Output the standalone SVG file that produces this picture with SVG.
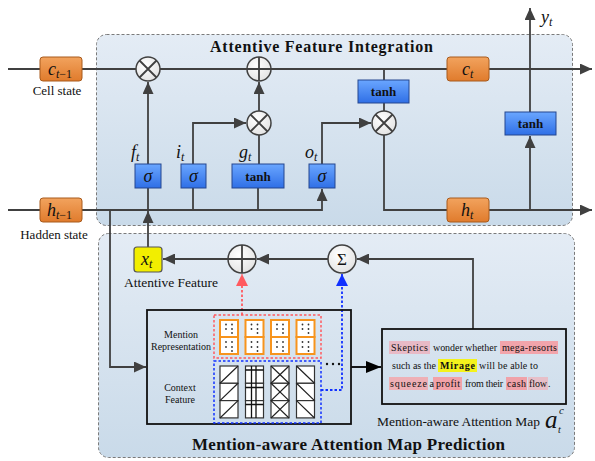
<svg xmlns="http://www.w3.org/2000/svg" width="595" height="461" viewBox="0 0 595 461">
<defs>
<linearGradient id="panel" x1="0" y1="0" x2="0" y2="1"><stop offset="0" stop-color="#e4ecf5"/><stop offset="1" stop-color="#c9dae9"/></linearGradient>
<linearGradient id="orange" x1="0" y1="0" x2="0" y2="1"><stop offset="0" stop-color="#f2a35e"/><stop offset="1" stop-color="#e07b2c"/></linearGradient>
<linearGradient id="blue" x1="0" y1="0" x2="0" y2="1"><stop offset="0" stop-color="#6aa6ff"/><stop offset="1" stop-color="#2f6fe6"/></linearGradient>
<radialGradient id="circ" cx="0.4" cy="0.35" r="0.7"><stop offset="0" stop-color="#ffffff"/><stop offset="1" stop-color="#e2e2e2"/></radialGradient>
<marker id="ah" markerUnits="userSpaceOnUse" markerWidth="13" markerHeight="11" refX="12" refY="5.5" orient="auto"><path d="M0,0 L12,5.5 L0,11 z" fill="#404040"/></marker>
<marker id="ahk" markerUnits="userSpaceOnUse" markerWidth="16" markerHeight="12" refX="15" refY="6" orient="auto"><path d="M0,0 L15,6 L0,12 z" fill="#000"/></marker>
<marker id="ahr" markerUnits="userSpaceOnUse" markerWidth="13" markerHeight="12" refX="12" refY="6" orient="auto"><path d="M0,0 L12,6 L0,12 z" fill="#ff5a5f"/></marker>
<marker id="ahb" markerUnits="userSpaceOnUse" markerWidth="13" markerHeight="12" refX="12" refY="6" orient="auto"><path d="M0,0 L12,6 L0,12 z" fill="#1030ff"/></marker>
<g id="tileO"><rect x="0" y="0" width="18" height="17" fill="#fff" stroke="#f7941d" stroke-width="2"/><rect x="0" y="17" width="18" height="17" fill="#fff" stroke="#f7941d" stroke-width="2"/>
<g fill="#333"><circle cx="6" cy="4.5" r="0.9"/><circle cx="12" cy="4.5" r="0.9"/><circle cx="6" cy="9" r="0.9"/><circle cx="12" cy="9" r="0.9"/><circle cx="12" cy="13" r="0.9"/><circle cx="6" cy="22" r="0.9"/><circle cx="12" cy="22" r="0.9"/><circle cx="6" cy="27" r="0.9"/><circle cx="12" cy="27" r="0.9"/><circle cx="12" cy="31" r="0.9"/></g></g>
</defs>
<style>
.ln{fill:none;stroke:#404040;stroke-width:1.8}
.box{stroke:#a85a1c;stroke-width:1;fill:url(#orange)}
.bb{stroke:#24468f;stroke-width:1;fill:url(#blue)}
.cir{fill:url(#circ);stroke:#404040;stroke-width:1.5}
.panel{fill:url(#panel);stroke:#7a7a7a;stroke-width:1;stroke-dasharray:3,2}
.t{font-family:"Liberation Serif","Times New Roman",serif;fill:#111}
.it{font-family:"Liberation Serif","Times New Roman",serif;font-style:italic;fill:#111}
.bold{font-family:"Liberation Serif","Times New Roman",serif;font-weight:bold;fill:#111}
.tile{fill:#fff;stroke:#333;stroke-width:1.2}
.pat{stroke:#222;stroke-width:1.2;fill:none}
</style>

<g id="panel-top"><rect class="panel" x="96.5" y="34.5" width="476" height="191" rx="10"/>
<text class="bold" x="210" y="52" font-size="16" textLength="223" lengthAdjust="spacing">Attentive Feature Integration</text></g>
<g id="panel-bottom"><rect class="panel" x="98.5" y="233.5" width="476" height="224" rx="10"/>
<text class="bold" x="192" y="450" font-size="17" textLength="313" lengthAdjust="spacing">Mention-aware Attention Map Prediction</text></g>

<g id="connectors">
<path class="ln" d="M8,69 H40 M82,69 H136 M160,69 H247 M271,69 H447"/>
<path class="ln" d="M489,69 H592" marker-end="url(#ah)"/>
<path class="ln" d="M8,210 H40 M82,210 H322 V189" marker-end="url(#ah)"/>
<path class="ln" d="M148,164 V82" marker-end="url(#ah)"/>
<path class="ln" d="M148,188 V210 M193,188 V210 M258,188 V210"/>
<path class="ln" d="M148,247 V211" marker-end="url(#ah)"/>
<path class="ln" d="M193,164 V123 H246" marker-end="url(#ah)"/>
<path class="ln" d="M259,164 V135"/>
<path class="ln" d="M259,111 V82" marker-end="url(#ah)"/>
<path class="ln" d="M322,164 V123 H371" marker-end="url(#ah)"/>
<path class="ln" d="M384,69 V80 M384,103 V111"/>
<path class="ln" d="M384,135 V210 H447"/>
<path class="ln" d="M489,210 H592" marker-end="url(#ah)"/>
<path class="ln" d="M530,210 V136" marker-end="url(#ah)"/>
<path class="ln" d="M530,112 V8" marker-end="url(#ah)"/>
<path class="ln" d="M110,210 V367 H146" marker-end="url(#ah)"/>
<path class="ln" d="M228,259 H163" marker-end="url(#ah)"/>
<path class="ln" d="M328,259 H257" marker-end="url(#ah)"/>
<path class="ln" d="M473,329 V259 H357" marker-end="url(#ah)"/>
<path d="M351,367 H381" stroke="#000" stroke-width="1.8" fill="none" marker-end="url(#ahk)"/>
<path d="M242,315 V274" stroke="#ff5a5f" stroke-width="1.8" stroke-dasharray="2.5,2" fill="none" marker-end="url(#ahr)"/>
<path d="M321,390 H342 V274" stroke="#1030ff" stroke-width="1.8" stroke-dasharray="2.5,2" fill="none" marker-end="url(#ahb)"/>
</g>

<g id="c-prev"><rect class="box" x="40" y="57" width="42" height="24" rx="3"/>
<text class="it" x="48" y="75" font-size="18">c<tspan font-size="12" dy="3">t</tspan><tspan font-style="normal" font-size="12">−1</tspan></text>
<text class="t" x="57" y="95" font-size="13" text-anchor="middle">Cell state</text></g>
<g id="h-prev"><rect class="box" x="40" y="198" width="42" height="24" rx="3"/>
<text class="it" x="47" y="216" font-size="18">h<tspan font-size="12" dy="3">t</tspan><tspan font-style="normal" font-size="12">−1</tspan></text>
<text class="t" x="54" y="239" font-size="13" text-anchor="middle">Hadden state</text></g>
<g id="c-t"><rect class="box" x="447" y="57" width="42" height="24" rx="3"/>
<text class="it" x="462" y="75" font-size="18">c<tspan font-size="12" dy="3">t</tspan></text></g>
<g id="h-t"><rect class="box" x="447" y="198" width="42" height="24" rx="3"/>
<text class="it" x="461" y="216" font-size="18">h<tspan font-size="12" dy="3">t</tspan></text></g>

<g id="mul-f"><circle class="cir" cx="148" cy="69" r="12"/><path class="ln" d="M139.5,60.5 L156.5,77.5 M156.5,60.5 L139.5,77.5" stroke-width="1.4"/></g>
<g id="add-c"><circle class="cir" cx="259" cy="69" r="12"/><path class="ln" d="M247,69 H271 M259,57 V81" stroke-width="1.4"/></g>
<g id="mul-i"><circle class="cir" cx="259" cy="123" r="12"/><path class="ln" d="M250.5,114.5 L267.5,131.5 M267.5,114.5 L250.5,131.5" stroke-width="1.4"/></g>
<g id="mul-o"><circle class="cir" cx="384" cy="123" r="12"/><path class="ln" d="M375.5,114.5 L392.5,131.5 M392.5,114.5 L375.5,131.5" stroke-width="1.4"/></g>

<g id="gate-f"><rect class="bb" x="135" y="164" width="26" height="24"/><text class="it" x="148" y="182" font-size="18" text-anchor="middle">σ</text>
<text class="it" x="131" y="158" font-size="18">f<tspan font-size="12" dy="3">t</tspan></text></g>
<g id="gate-i"><rect class="bb" x="181" y="164" width="25" height="24"/><text class="it" x="193.5" y="182" font-size="18" text-anchor="middle">σ</text>
<text class="it" x="176" y="158" font-size="18">i<tspan font-size="12" dy="3">t</tspan></text></g>
<g id="gate-g"><rect class="bb" x="232" y="164" width="52" height="24"/><text class="bold" x="258" y="181" font-size="13" text-anchor="middle">tanh</text>
<text class="it" x="239" y="158" font-size="18">g<tspan font-size="12" dy="3">t</tspan></text></g>
<g id="gate-o"><rect class="bb" x="309" y="164" width="26" height="24"/><text class="it" x="322" y="182" font-size="18" text-anchor="middle">σ</text>
<text class="it" x="305" y="158" font-size="18">o<tspan font-size="12" dy="3">t</tspan></text></g>
<g id="tanh-c"><rect class="bb" x="358" y="80" width="51" height="23"/><text class="bold" x="383.5" y="96" font-size="13" text-anchor="middle">tanh</text></g>
<g id="tanh-y"><rect class="bb" x="505" y="112" width="51" height="23"/><text class="bold" x="530.5" y="128" font-size="13" text-anchor="middle">tanh</text></g>
<g id="y-t"><text class="it" x="541" y="23" font-size="18">y<tspan font-size="12" dy="3">t</tspan></text></g>

<g id="x-t"><rect x="134" y="247" width="28" height="25" rx="3" fill="#f2ee00" stroke="#555" stroke-width="1.2"/>
<text class="it" x="141" y="265" font-size="18">x<tspan font-size="12" dy="3">t</tspan></text>
<text class="t" x="171" y="287" font-size="13.5" text-anchor="middle">Attentive Feature</text></g>
<g id="add-x"><circle class="cir" cx="242" cy="259" r="14"/><path class="ln" d="M228,259 H256 M242,245 V273" stroke-width="1.4"/></g>
<g id="sum"><circle class="cir" cx="342" cy="259" r="14"/><text class="t" x="342" y="265" font-size="17" text-anchor="middle">Σ</text></g>

<g id="feature-box"><rect x="147" y="310" width="204" height="114" fill="none" stroke="#111" stroke-width="1.8"/>
<text class="t" x="181" y="338" font-size="10" text-anchor="middle">Mention</text>
<text class="t" x="181" y="350" font-size="10" text-anchor="middle">Representation</text>
<text class="t" x="180" y="391" font-size="10" text-anchor="middle">Context</text>
<text class="t" x="180" y="403" font-size="10" text-anchor="middle">Feature</text>
<rect x="214" y="315" width="107" height="43" fill="none" stroke="#ff5a5f" stroke-width="1.5" stroke-dasharray="2.5,2"/>
<use href="#tileO" x="220" y="320"/><use href="#tileO" x="245.5" y="320"/><use href="#tileO" x="271" y="320"/><use href="#tileO" x="296.5" y="320"/>
<rect x="214" y="361" width="107" height="62" fill="none" stroke="#1030ff" stroke-width="1.5" stroke-dasharray="2.5,2"/>
<g>
<rect class="tile" x="220" y="366" width="18" height="17.3"/><rect class="tile" x="220" y="383.3" width="18" height="17.3"/><rect class="tile" x="220" y="400.6" width="18" height="17.3"/>
<path class="pat" d="M220,383.3 L238,366 M220,400.6 L238,383.3 M220,418 L238,400.6"/>
<rect class="tile" x="245.5" y="366" width="18" height="17.3"/><rect class="tile" x="245.5" y="383.3" width="18" height="17.3"/><rect class="tile" x="245.5" y="400.6" width="18" height="17.3"/>
<path d="M251.5,366 V418 M256,366 V418 M245.5,370 H263.5 M245.5,387.5 H263.5 M245.5,404.5 H263.5" stroke="#111" stroke-width="1.3" fill="none"/>
<rect class="tile" x="271" y="366" width="18" height="17.3"/><rect class="tile" x="271" y="383.3" width="18" height="17.3"/><rect class="tile" x="271" y="400.6" width="18" height="17.3"/>
<path class="pat" d="M271,366 L289,383.3 M289,366 L271,383.3 M271,383.3 L289,400.6 M289,383.3 L271,400.6 M271,400.6 L289,418 M289,400.6 L271,418"/>
<rect class="tile" x="296.5" y="366" width="18" height="17.3"/><rect class="tile" x="296.5" y="383.3" width="18" height="17.3"/><rect class="tile" x="296.5" y="400.6" width="18" height="17.3"/>
<path class="pat" d="M296.5,366 L314.5,383.3 M296.5,383.3 L314.5,400.6 M296.5,400.6 L314.5,418"/>
</g>
<g fill="#111"><circle cx="327" cy="364" r="1.2"/><circle cx="333" cy="364" r="1.2"/><circle cx="339" cy="364" r="1.2"/></g>
</g>

<g id="attention-map"><rect x="382" y="329" width="184" height="75" fill="none" stroke="#111" stroke-width="1.8"/>
<rect x="389" y="341" width="41" height="13" fill="#e8bac6"/>
<rect x="500" y="341" width="58" height="13" fill="#f2a4ab"/>
<rect x="438" y="359" width="39" height="13" fill="#f4f21c"/>
<rect x="389" y="377" width="39" height="13" fill="#eeb0b6"/>
<rect x="433" y="377" width="29" height="13" fill="#f2a2a8"/>
<rect x="506" y="377" width="21" height="13" fill="#f0a2a9"/>
<rect x="528" y="377" width="20" height="13" fill="#e7bfc8"/>
<g class="t" font-size="10">
<text x="391" y="351" textLength="37">Skeptics</text>
<text x="433" y="351" textLength="64">wonder whether</text>
<text x="502" y="351" textLength="55">mega-resorts</text>
<text x="392" y="369" textLength="44">such as the</text>
<text x="440" y="369" font-weight="bold" textLength="35">Mirage</text>
<text x="479" y="369" textLength="59">will be able to</text>
<text x="390" y="387" textLength="37">squeeze</text>
<text x="429.5" y="387">a</text>
<text x="436" y="387" textLength="24">profit</text>
<text x="465" y="387" textLength="38">from their</text>
<text x="507" y="387" textLength="19">cash</text>
<text x="529" y="387" textLength="18">flow</text>
<text x="548" y="387">.</text>
</g>
<text class="t" x="377" y="426" font-size="13.5" textLength="163">Mention-aware Attention Map</text>
<text class="it" x="545" y="428" font-size="25">a</text>
<text class="it" x="559" y="414" font-size="11">c</text>
<text class="it" x="558" y="433" font-size="10">t</text>
</g>
</svg>
